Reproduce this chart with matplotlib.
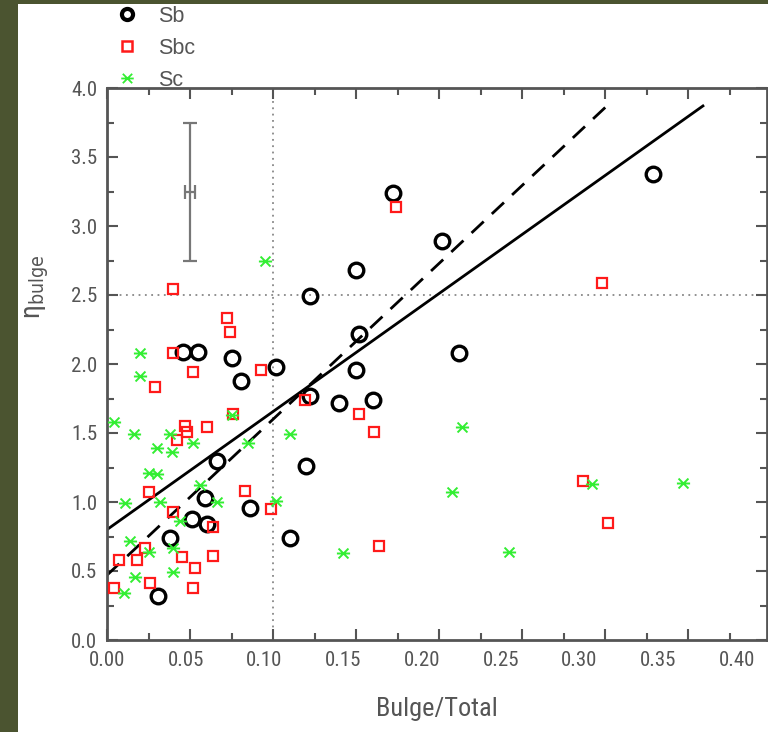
import matplotlib
matplotlib.use('Agg')
import matplotlib.pyplot as plt
import numpy as np
from matplotlib.path import Path
from matplotlib.patches import Rectangle
from matplotlib.lines import Line2D
from matplotlib.ticker import MultipleLocator, FormatStrFormatter, NullLocator

# ---- data ----
sb_bt = [0.329, 0.172, 0.202, 0.150, 0.122, 0.152, 0.046, 0.055, 0.075, 0.081,
         0.102, 0.212, 0.150, 0.122, 0.140, 0.160, 0.066, 0.120, 0.059, 0.086,
         0.051, 0.060, 0.038, 0.110, 0.031]
sb_n = [3.38, 3.24, 2.89, 2.68, 2.49, 2.22, 2.09, 2.09, 2.04, 1.88,
        1.98, 2.08, 1.96, 1.77, 1.72, 1.74, 1.30, 1.26, 1.03, 0.96,
        0.88, 0.84, 0.74, 0.74, 0.32]

sbc_bt = [0.040, 0.072, 0.074, 0.040, 0.052, 0.029, 0.093, 0.076, 0.047, 0.048,
          0.042, 0.060, 0.119, 0.152, 0.161, 0.174, 0.298, 0.287, 0.302, 0.164,
          0.025, 0.040, 0.064, 0.083, 0.099, 0.023, 0.007, 0.018, 0.045, 0.064,
          0.053, 0.004, 0.026, 0.052]
sbc_n = [2.54, 2.33, 2.23, 2.08, 1.94, 1.83, 1.96, 1.64, 1.55, 1.51,
         1.45, 1.54, 1.74, 1.64, 1.51, 3.14, 2.59, 1.15, 0.85, 0.68,
         1.07, 0.93, 0.82, 1.08, 0.95, 0.67, 0.58, 0.58, 0.60, 0.61,
         0.52, 0.38, 0.41, 0.38]

sc_bt = [0.095, 0.020, 0.020, 0.004, 0.016, 0.038, 0.052, 0.030, 0.039, 0.075,
         0.085, 0.110, 0.025, 0.030, 0.056, 0.032, 0.066, 0.011, 0.102, 0.044,
         0.014, 0.025, 0.040, 0.017, 0.040, 0.010, 0.214, 0.208, 0.142, 0.242,
         0.292, 0.347]
sc_n = [2.75, 2.08, 1.91, 1.58, 1.49, 1.49, 1.43, 1.39, 1.36, 1.63,
        1.43, 1.49, 1.21, 1.20, 1.12, 1.00, 1.00, 0.99, 1.01, 0.86,
        0.72, 0.64, 0.67, 0.46, 0.49, 0.34, 1.54, 1.07, 0.63, 0.64,
        1.13, 1.14]

solid_bt = [0.0, 0.359]
solid_n = [0.80, 3.87]
dashed_bt = [0.0, 0.302]
dashed_n = [0.47, 3.88]

err_bt, err_n, err_y, err_x = 0.05, 3.25, 0.50, 0.003
vline_bt = 0.10
hline_n = 2.5

xtick_vals = [0.00, 0.05, 0.10, 0.15, 0.20, 0.25, 0.30, 0.35, 0.40]
ytick_vals = [0.0, 0.5, 1.0, 1.5, 2.0, 2.5, 3.0, 3.5, 4.0]
labels = ['Sb', 'Sbc', 'Sc']

# ---- style ----
plt.rcParams['font.family'] = ['Roboto Condensed', 'Liberation Sans Narrow',
                               'Liberation Sans', 'DejaVu Sans']
plt.rcParams['font.stretch'] = 'condensed'
GREY = '#555555'

star = Path([(-1, 0), (1, 0), (-0.75, -0.75), (0.75, 0.75), (-0.75, 0.75), (0.75, -0.75)],
            [Path.MOVETO, Path.LINETO, Path.MOVETO, Path.LINETO, Path.MOVETO, Path.LINETO])

fig = plt.figure(figsize=(7.68, 7.32), dpi=100)
fig.patch.set_facecolor('#4b5430')
fig.patches.append(Rectangle((18 / 768, 0), 1 - 18 / 768, 1 - 4 / 732,
                             transform=fig.transFigure, facecolor='white',
                             edgecolor='none', zorder=-10))

ax = fig.add_axes([107 / 768, 92 / 732, 660 / 768, 552 / 732])
ax.set_xlim(0, 660 / 1660)
ax.set_ylim(0, 4.0)

ax.axvline(vline_bt, color='#888888', lw=1.3, ls=(0, (1, 2.5)), zorder=1)
ax.axhline(hline_n, color='#888888', lw=1.3, ls=(0, (1, 2.5)), zorder=1)

ax.plot(solid_bt, solid_n, color='black', lw=2.0, zorder=2)
ax.plot(dashed_bt, dashed_n, color='black', lw=2.0, ls=(0, (6, 4)), zorder=2)

ax.errorbar([err_bt], [err_n], yerr=[err_y], xerr=[err_x], color='#777777',
            elinewidth=1.6, capsize=5, capthick=1.6, fmt='none', zorder=2)

ax.plot(sb_bt, sb_n, ls='none', marker='o', ms=10.5, mfc='none', mec='black', mew=2.4, zorder=3)
ax.plot(sbc_bt, sbc_n, ls='none', marker='s', ms=7, mfc='none', mec='#ff1a1a', mew=1.6, zorder=4)
ax.plot(sc_bt, sc_n, ls='none', marker=star, ms=9.5, mfc='none', mec='#33ee33', mew=1.4, zorder=5)

# ticks
ax.xaxis.set_major_locator(MultipleLocator(0.05))
ax.xaxis.set_minor_locator(MultipleLocator(0.025))
ax.set_yticks(ytick_vals)
ax.yaxis.set_minor_locator(MultipleLocator(0.25))
ax.yaxis.set_major_formatter(FormatStrFormatter('%.1f'))
ax.tick_params(which='both', direction='in', top=True, right=True, color=GREY, width=1.5)
ax.tick_params(which='major', length=8)
ax.tick_params(which='minor', length=5)
ax.tick_params(axis='x', labelbottom=False)
ax.tick_params(axis='y', labelsize=15, labelcolor=GREY, pad=7)
for s in ax.spines.values():
    s.set_color(GREY)
    s.set_linewidth(2.0)

# x tick labels (slightly compressed relative to tick marks, as in reference)
def fwd(x):
    return 1660 * np.asarray(x) / 1575

def inv(v):
    return 1575 * np.asarray(v) / 1660

sec = ax.secondary_xaxis('bottom', functions=(fwd, inv))
sec.set_xticks(xtick_vals)
sec.xaxis.set_major_formatter(FormatStrFormatter('%.2f'))
sec.xaxis.set_minor_locator(NullLocator())
sec.tick_params(length=0, pad=8, labelsize=15, labelcolor=GREY)
sec.spines['bottom'].set_visible(False)

ax.set_xlabel('Bulge/Total', fontsize=19, color=GREY)
ax.xaxis.set_label_coords(0.5, -0.103)
ax.set_ylabel('η$_{\\mathrm{bulge}}$', fontsize=20, color=GREY)
ax.yaxis.set_label_coords(-0.085, 0.64)

handles = [
    Line2D([], [], ls='none', marker='o', ms=8, mfc='none', mec='black', mew=3),
    Line2D([], [], ls='none', marker='s', ms=7, mfc='none', mec='#ff1a1a', mew=1.8),
    Line2D([], [], ls='none', marker=star, ms=9, mfc='none', mec='#33ee33', mew=1.3),
]
fig.legend(handles, labels, loc='upper left', bbox_to_anchor=(114 / 768, 1.0 - 6 / 732),
           frameon=False, prop={'family': 'Liberation Sans', 'stretch': 'normal', 'size': 15.5},
           labelcolor=GREY, handlelength=1.2, handletextpad=0.85,
           labelspacing=0.5, borderpad=0.0, borderaxespad=0.0)

fig.savefig('out.png', dpi=100, facecolor=fig.get_facecolor())
